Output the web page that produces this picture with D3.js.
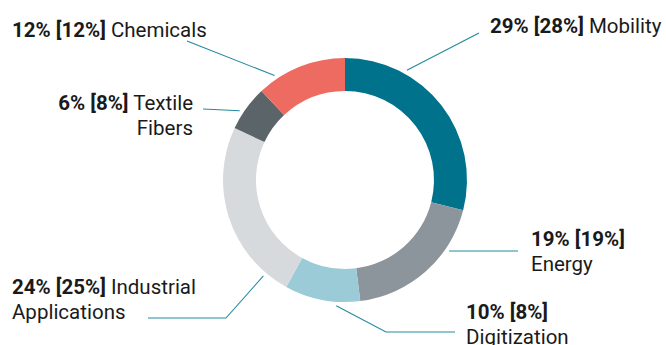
<!DOCTYPE html>
<html>
<head>
<meta charset="utf-8">
<script src="https://cdn.jsdelivr.net/npm/d3@7"></script>
<style>
  html, body { margin: 0; padding: 0; background: #ffffff; }
  svg { display: block; font-family: Roboto, "Noto Sans", sans-serif; }
</style>
</head>
<body>
<svg id="chart" width="666" height="345"></svg>
<script>
// Sales share by segment, current year with previous year in brackets
const categories = ["Mobility", "Energy", "Digitization", "Industrial Applications", "Textile Fibers", "Chemicals"];
const shares     = [29, 19, 10, 24, 6, 12];
const prevShares = [28, 19, 8, 25, 8, 12];
const colors     = ["#00728c", "#8c959b", "#9bcbd6", "#d7dadd", "#5b6469", "#ee6b61"];

// Label layout: text position, wrapping mode, leader line (start angle on ring + elbow points)
const labelLayout = [
  { x: 490, y: 33,  anchor: "start", split: "none", leaderAngle: 29.4,  leader: [[479, 33]] },
  { x: 531, y: 246, anchor: "start", split: "name", leaderAngle: 124.3, leader: [[518, 251]] },
  { x: 466, y: 319, anchor: "start", split: "name", leaderAngle: 184,   leader: [[386, 332], [455, 332]] },
  { x: 12,  y: 294, anchor: "start", split: "word", leaderAngle: 220.4, leader: [[226, 318], [148, 318]] },
  { x: 193, y: 110, anchor: "end",   split: "word", leaderAngle: 303.3, leader: [[203, 109]] },
  { x: 12,  y: 37,  anchor: "start", split: "none", leaderAngle: 326,   leader: [[187, 41]] }
];

const svg = d3.select("#chart");
const cx = 345, cy = 180, rOuter = 122, rInner = 89;
const lineH = 25;

const pie = d3.pie().sort(null).value(d => d)(shares);
const arc = d3.arc().innerRadius(rInner).outerRadius(rOuter);

const g = svg.append("g").attr("transform", `translate(${cx},${cy})`);
g.selectAll("path.slice")
  .data(pie)
  .join("path")
  .attr("class", "slice")
  .attr("d", arc)
  .attr("fill", (d, i) => colors[i]);

// Leader lines from just outside the ring to each label
const polar = (deg, r) => {
  const a = deg * Math.PI / 180;
  return [cx + r * Math.sin(a), cy - r * Math.cos(a)];
};
const line = d3.line();
svg.selectAll("path.leader")
  .data(labelLayout)
  .join("path")
  .attr("class", "leader")
  .attr("d", d => line([polar(d.leaderAngle, 126), ...d.leader]))
  .attr("fill", "none")
  .attr("stroke", "#2389a0")
  .attr("stroke-width", 1.1);

// Labels: bold shares, regular segment name
labelLayout.forEach((L, i) => {
  const numText = `${shares[i]}% [${prevShares[i]}%]`;
  const name = categories[i];
  const t = svg.append("text")
    .attr("x", L.x).attr("y", L.y)
    .attr("text-anchor", L.anchor)
    .attr("font-size", 20.5)
    .attr("fill", "#1a1a1a");
  t.append("tspan").attr("font-weight", 700).text(numText);
  if (L.split === "name") {
    t.append("tspan").attr("x", L.x).attr("dy", lineH).text(name);
  } else if (L.split === "word") {
    const words = name.split(" ");
    t.append("tspan").text(" " + words[0]);
    t.append("tspan").attr("x", L.x).attr("dy", lineH).text(words.slice(1).join(" "));
  } else {
    t.append("tspan").text(" " + name);
  }
});
</script>
</body>
</html>
